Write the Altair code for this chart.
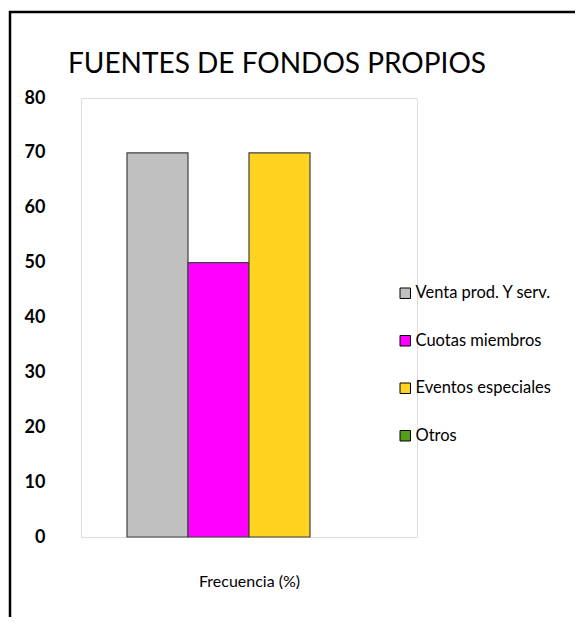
import altair as alt
import pandas as pd

title_text = "FUENTES DE FONDOS PROPIOS"
categories = ["Venta prod. Y serv.", "Cuotas miembros", "Eventos especiales", "Otros"]
values = [70, 50, 70, 0]
colors = ["#C0C0C0", "#FF00FF", "#FFD320", "#579D1C"]
y_ticks = [0, 10, 20, 30, 40, 50, 60, 70, 80]

df = pd.DataFrame({"Serie": categories, "Valor": values})

FONT = "Lato"

bars = alt.Chart(df).mark_bar(stroke="#404040", strokeWidth=1.2).encode(
    x=alt.X("Serie:N", sort=categories,
            scale=alt.Scale(paddingInner=0, paddingOuter=0.754),
            axis=alt.Axis(labels=False, ticks=False, domain=False,
                          title="Frecuencia (%)", titleFont=FONT,
                          titleFontSize=16, titleFontWeight="normal",
                          titleColor="black", titlePadding=36)),
    y=alt.Y("Valor:Q", scale=alt.Scale(domain=[0, 80], nice=False),
            axis=alt.Axis(values=y_ticks, grid=False, domain=False, ticks=False,
                          labelFont=FONT, labelFontSize=18, labelFontWeight="bold",
                          labelColor="black", labelPadding=36, title=None)),
    color=alt.Color("Serie:N", sort=categories,
                    scale=alt.Scale(domain=categories, range=colors),
                    legend=alt.Legend(title=None, orient="none", legendX=316, legendY=187,
                                      symbolType="square", symbolSize=110,
                                      symbolStrokeColor="black", symbolStrokeWidth=1,
                                      labelFont=FONT, labelFontSize=16.5, labelColor="black",
                                      labelOffset=2, rowPadding=30.5)),
    strokeOpacity=alt.condition(alt.datum.Valor > 0, alt.value(1), alt.value(0)),
)

one = pd.DataFrame({"t": [title_text]})

frame = alt.Chart(one).mark_rect(
    fill=None, stroke="black", strokeWidth=2.5
).encode(
    x=alt.value(-71), x2=alt.value(700), y=alt.value(-86), y2=alt.value(800)
)

title = alt.Chart(one).mark_text(
    font=FONT, fontSize=28, align="left", baseline="alphabetic", color="black"
).encode(
    text="t:N", x=alt.value(-13), y=alt.value(-25)
)

chart = alt.layer(frame, bars, title).properties(
    width=336, height=439,
    autosize=alt.AutoSizeParams(type="none"),
    padding={"left": 73, "top": 90, "right": 158, "bottom": 80},
).configure_view(stroke="#BFBFBF", strokeWidth=1.2).configure(background="white")

chart.save("out.html", embed_options={"renderer": "svg", "actions": False})
